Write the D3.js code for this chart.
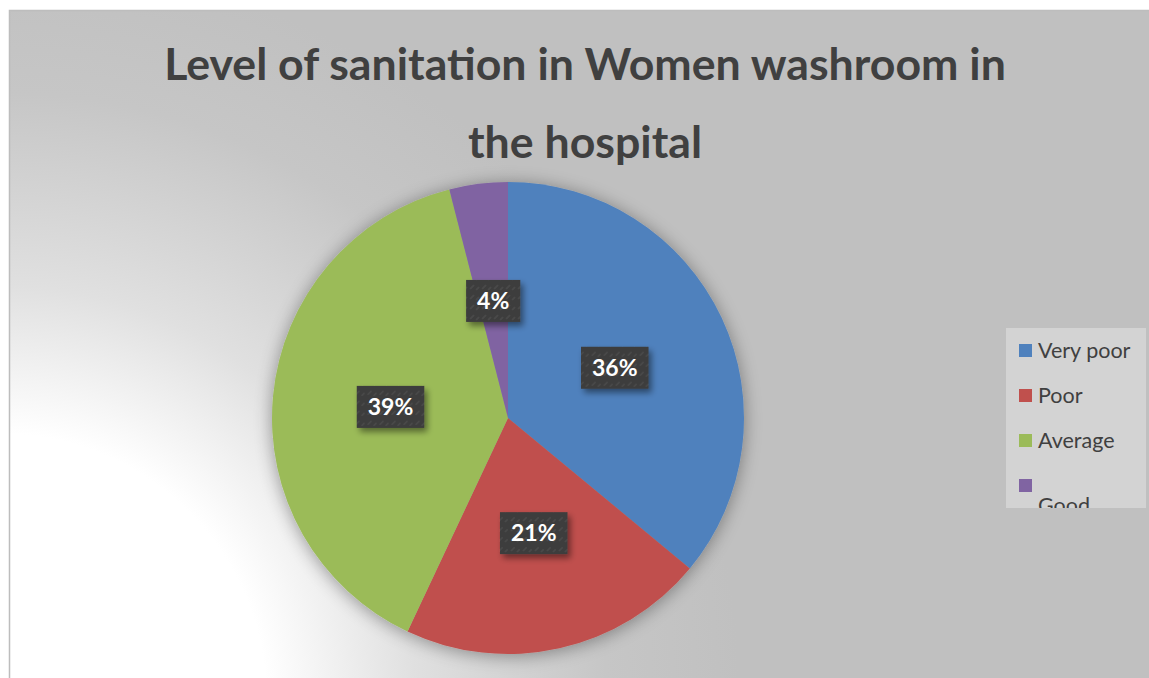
<!DOCTYPE html>
<html>
<head>
<meta charset="utf-8">
<script src="https://cdn.jsdelivr.net/npm/d3@7/dist/d3.min.js"></script>
<style>
  html, body { margin: 0; padding: 0; background: #ffffff; }
  svg { display: block; }
</style>
</head>
<body>
<svg id="chart" width="1149" height="678"></svg>
<script>
// Survey results: level of sanitation in the women's washroom
const categories = ["Very poor", "Poor", "Average", "Good"];
const shares = [36, 21, 39, 4];
const colors = ["#4f81bd", "#c0504d", "#9bbb59", "#8064a2"];
const titleLines = ["Level of sanitation in Women washroom in", "the hospital"];

const W = 1149, H = 678;
const FONT = "Lato, 'Open Sans', sans-serif";
const svg = d3.select("#chart");
const defs = svg.append("defs");

// Background: light corner bottom-left fading to grey
const bg = defs.append("radialGradient").attr("id", "bgGrad")
  .attr("gradientUnits", "userSpaceOnUse")
  .attr("cx", 0).attr("cy", 700).attr("r", 740);
[[0, "#ffffff"], [0.36, "#ffffff"], [0.56, "#e0e0e0"], [0.82, "#c6c6c6"], [1, "#c0c0c0"]]
  .forEach(([o, c]) => bg.append("stop").attr("offset", o).attr("stop-color", c));

// Soft shadow under the pie
const pieShadow = defs.append("filter").attr("id", "pieShadow")
  .attr("x", "-20%").attr("y", "-20%").attr("width", "140%").attr("height", "140%");
pieShadow.append("feGaussianBlur").attr("in", "SourceAlpha").attr("stdDeviation", 9).attr("result", "b");
pieShadow.append("feOffset").attr("in", "b").attr("dx", 0).attr("dy", 2).attr("result", "o");
pieShadow.append("feComponentTransfer").attr("in", "o").attr("result", "s")
  .append("feFuncA").attr("type", "linear").attr("slope", 0.38);
const pm = pieShadow.append("feMerge");
pm.append("feMergeNode").attr("in", "s");
pm.append("feMergeNode").attr("in", "SourceGraphic");

// Shadow for data label boxes
const boxShadow = defs.append("filter").attr("id", "boxShadow")
  .attr("x", "-30%").attr("y", "-30%").attr("width", "160%").attr("height", "160%");
boxShadow.append("feGaussianBlur").attr("in", "SourceAlpha").attr("stdDeviation", 3).attr("result", "b");
boxShadow.append("feOffset").attr("in", "b").attr("dx", 3).attr("dy", 4).attr("result", "o");
boxShadow.append("feComponentTransfer").attr("in", "o").attr("result", "s")
  .append("feFuncA").attr("type", "linear").attr("slope", 0.45);
const bm = boxShadow.append("feMerge");
bm.append("feMergeNode").attr("in", "s");
bm.append("feMergeNode").attr("in", "SourceGraphic");

// Textured fill for label boxes
const pat = defs.append("pattern").attr("id", "boxTex")
  .attr("patternUnits", "userSpaceOnUse").attr("width", 12).attr("height", 10);
pat.append("rect").attr("width", 12).attr("height", 10).attr("fill", "#3c3c3c");
pat.append("path").attr("d", "M1,8 L5,4 M7,9 L10,6").attr("stroke", "#4b4b4b").attr("stroke-width", 1.6);

// Chart area
svg.append("rect").attr("x", 9).attr("y", 10).attr("width", W).attr("height", H)
  .attr("fill", "url(#bgGrad)");
svg.append("path").attr("d", `M9.5,${H} V10.5 H${W}`)
  .attr("fill", "none").attr("stroke", "#bdbdbd").attr("stroke-width", 1.5);

// Title, sized so the first line spans the chart's title width
const titleG = svg.append("g").attr("fill", "#404040")
  .attr("font-family", FONT).attr("font-weight", 700)
  .attr("text-anchor", "middle");
const t1 = titleG.append("text").attr("x", 585).attr("y", 80).text(titleLines[0]).attr("font-size", 40);
const w1 = t1.node().getComputedTextLength();
const titleSize = 40 * 842 / w1;
t1.attr("font-size", titleSize);
titleG.append("text").attr("x", 585).attr("y", 158).attr("font-size", titleSize).text(titleLines[1]);

// Pie
const cx = 508, cy = 418, R = 236;
const pie = d3.pie().sort(null).value(d => d);
const arcs = pie(shares);
const arc = d3.arc().innerRadius(0).outerRadius(R);
const labelArc = d3.arc().innerRadius(R / 2).outerRadius(R / 2);

const pieG = svg.append("g").attr("transform", `translate(${cx},${cy})`);
pieG.append("g").attr("filter", "url(#pieShadow)")
  .selectAll("path").data(arcs).join("path")
  .attr("d", arc).attr("fill", (d, i) => colors[i]);

// Data labels
const lab = pieG.selectAll("g.lab").data(arcs).join("g").attr("class", "lab")
  .attr("transform", d => `translate(${labelArc.centroid(d)})`);
lab.each(function (d) {
  const g = d3.select(this);
  const txt = g.append("text").attr("text-anchor", "middle").attr("dy", "0.36em")
    .attr("font-family", FONT).attr("font-weight", 700)
    .attr("font-size", 23).attr("fill", "#ffffff").text(d.data + "%");
  const tw = txt.node().getComputedTextLength();
  const bw = tw + 22, bh = 42;
  g.insert("rect", "text").attr("x", -bw / 2).attr("y", -bh / 2)
    .attr("width", bw).attr("height", bh).attr("fill", "url(#boxTex)")
    .attr("filter", "url(#boxShadow)");
});

// Legend
const lx = 1006, ly = 328, lw = 140, lh = 180;
defs.append("clipPath").attr("id", "legClip").append("rect")
  .attr("x", lx).attr("y", ly).attr("width", lw).attr("height", lh);
const leg = svg.append("g").attr("clip-path", "url(#legClip)");
leg.append("rect").attr("x", lx).attr("y", ly).attr("width", lw).attr("height", lh).attr("fill", "#d3d3d3");
const rowY = d3.scalePoint().domain(categories).range([351, 486]);
const item = leg.selectAll("g.item").data(categories).join("g").attr("class", "item");
item.append("rect").attr("x", 1019).attr("y", d => rowY(d) - 7).attr("width", 13).attr("height", 13)
  .attr("fill", (d, i) => colors[i]);
item.append("text")
  .attr("x", 1038)
  .attr("y", (d, i) => i === categories.length - 1 ? rowY(d) + 27 : rowY(d) + 7)
  .attr("font-family", FONT).attr("font-size", 21.5).attr("fill", "#404040")
  .text(d => d);
</script>
</body>
</html>
